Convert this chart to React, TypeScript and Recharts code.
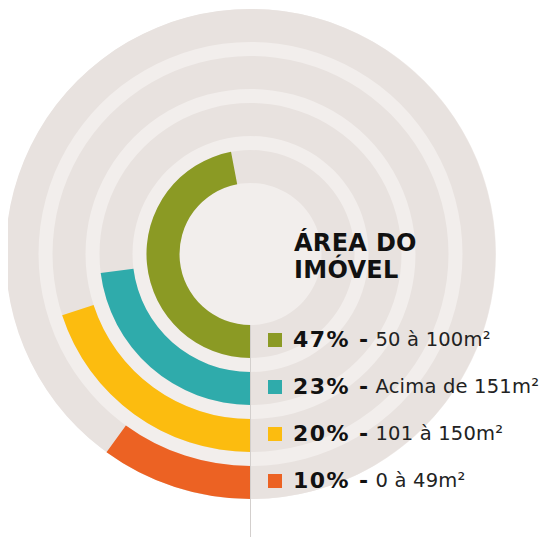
import { RadialBarChart, RadialBar, PolarAngleAxis, PolarRadiusAxis } from "recharts";

const categories = ["50 à 100m²", "Acima de 151m²", "101 à 150m²", "0 à 49m²"];
const shares = [47, 23, 20, 10];
const colors = ["#8b9a24", "#2fabab", "#fcbc0f", "#ec6223"];
const titleLines = ["ÁREA DO", "IMÓVEL"];

const CX = 250.5;
const CY = 254;
const BAND = "#e8e2df";
const LIGHT = "#f2eeec";
const FONT = "'DejaVu Sans', sans-serif";

const data = categories.map((name, i) => ({ name, value: shares[i], fill: colors[i] }));

export default function App() {
  return (
    <div style={{ position: "relative", width: 549, height: 545, margin: -8, background: "#fff", overflow: "hidden" }}>
      {/* light disc behind the rings */}
      <div
        style={{
          position: "absolute",
          left: CX - 245,
          top: CY - 245,
          width: 490,
          height: 490,
          borderRadius: "50%",
          background: LIGHT,
        }}
      />
      <div style={{ position: "absolute", left: 0, top: 0 }}>
        <RadialBarChart
          width={549}
          height={545}
          cx={CX}
          cy={CY}
          innerRadius={64}
          outerRadius={252}
          startAngle={270}
          endAngle={-90}
          barSize={33}
          margin={{ top: 0, right: 0, bottom: 0, left: 0 }}
          data={data}
        >
          <PolarAngleAxis type="number" domain={[0, 100]} tick={false} axisLine={false} />
          <PolarRadiusAxis type="category" dataKey="name" tick={false} axisLine={false} tickLine={false} />
          <RadialBar dataKey="value" background={{ fill: BAND }} isAnimationActive={false} />
        </RadialBarChart>
      </div>
      {/* divider line */}
      <div style={{ position: "absolute", left: CX - 0.75, top: 325, width: 1.5, height: 230, background: "#d3cfcd" }} />
      {/* title */}
      <div
        style={{
          position: "absolute",
          left: 294,
          top: 230,
          fontFamily: FONT,
          fontWeight: 700,
          fontSize: 24,
          lineHeight: "27px",
          letterSpacing: 0.3,
          color: "#111",
        }}
      >
        {titleLines.map((t) => (
          <div key={t}>{t}</div>
        ))}
      </div>
      {/* legend */}
      {categories.map((name, i) => (
        <div
          key={name}
          style={{
            position: "absolute",
            left: 268,
            top: 329 + i * 47,
            height: 22,
            display: "flex",
            alignItems: "center",
            fontFamily: FONT,
            color: "#111",
            whiteSpace: "nowrap",
          }}
        >
          <div style={{ width: 14, height: 14, background: colors[i], marginRight: 11 }} />
          <span style={{ fontWeight: 700, fontSize: 22, lineHeight: "22px", letterSpacing: 1.4 }}>{shares[i]}% -</span>
          <span style={{ fontSize: 19.5, lineHeight: "22px", marginLeft: 6, letterSpacing: 0.2, color: "#222" }}>{name}</span>
        </div>
      ))}
    </div>
  );
}
